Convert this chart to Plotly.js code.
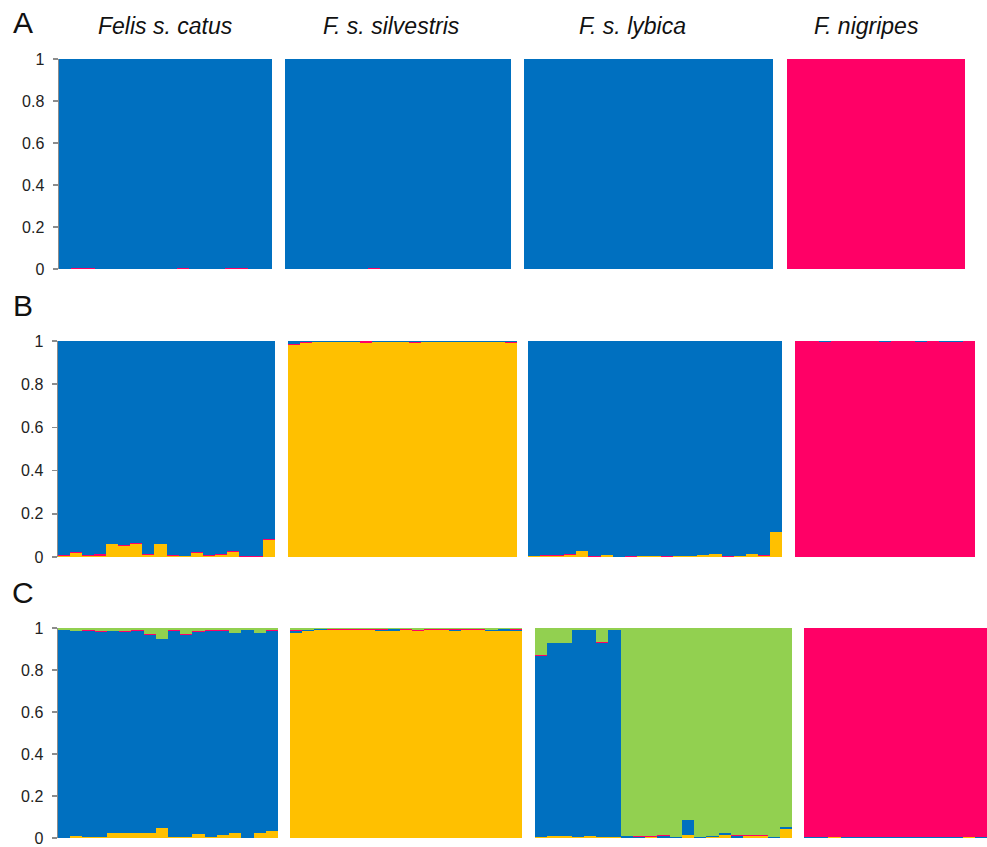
<!DOCTYPE html>
<html>
<head>
<meta charset="utf-8">
<script src="https://cdn.plot.ly/plotly-3.0.1.min.js"></script>
<style>html,body{margin:0;padding:0;background:#fff;}#chart{width:987px;height:847px;}</style>
</head>
<body>
<div id="chart"></div>
<script>
// ---------- Data ----------
var populations = ['Felis s. catus', 'F. s. silvestris', 'F. s. lybica', 'F. nigripes'];
var panelLetters = ['A', 'B', 'C'];
var yTickVals = [0, 0.2, 0.4, 0.6, 0.8, 1];
var yTickText = ['0', '0.2', '0.4', '0.6', '0.8', '1'];

// Row A (K=2): pink, blue
var A_catus_pink = [0,0.003,0.006,0,0.002,0,0.002,0,0,0.002,0.006,0,0.002,0,0.005,0.005,0,0.002];
var A_catus_blue = [1,0.997,0.994,1,0.998,1,0.998,1,1,0.998,0.994,1,0.998,1,0.995,0.995,1,0.998];
var A_silv_pink = [0,0,0,0,0,0,0,0.004,0,0,0,0,0,0,0,0,0,0,0];
var A_silv_blue = [1,1,1,1,1,1,1,0.996,1,1,1,1,1,1,1,1,1,1,1];
var A_lyb_pink = [0,0,0,0,0,0,0,0,0,0,0,0,0,0,0,0,0,0,0,0,0];
var A_lyb_blue = [1,1,1,1,1,1,1,1,1,1,1,1,1,1,1,1,1,1,1,1,1];
var A_nig_pink = [1,1,1,1,1,1,1,1,1,1,1,1,1,1,1];
var A_nig_blue = [0,0,0,0,0,0,0,0,0,0,0,0,0,0,0];

// Row B (K=3): yellow, pink, blue
var B_catus_yellow = [0.004,0.019,0.006,0.004,0.059,0.051,0.062,0.011,0.059,0.006,0.003,0.020,0.006,0.011,0.025,0.002,0.002,0.080];
var B_catus_pink   = [0.004,0.004,0.002,0.008,0.003,0.004,0.002,0.002,0.003,0.002,0.003,0.003,0.002,0.003,0.002,0.004,0.004,0.002];
var B_catus_blue   = [0.992,0.977,0.992,0.988,0.938,0.945,0.936,0.987,0.938,0.992,0.994,0.977,0.992,0.986,0.973,0.994,0.994,0.918];
var B_silv_yellow = [0.982,0.992,0.995,0.994,0.995,0.994,0.993,0.995,0.994,0.995,0.993,0.995,0.994,0.995,0.995,0.994,0.995,0.994,0.992];
var B_silv_pink   = [0.006,0.002,0.002,0.003,0.002,0.003,0.005,0.002,0.003,0.002,0.003,0.002,0.002,0.002,0.002,0.003,0.002,0.003,0.005];
var B_silv_blue   = [0.012,0.006,0.003,0.003,0.003,0.003,0.002,0.003,0.003,0.003,0.004,0.003,0.004,0.003,0.003,0.003,0.003,0.003,0.003];
var B_lyb_yellow = [0.004,0.006,0.006,0.008,0.026,0.002,0.009,0.001,0.002,0.005,0.005,0.002,0.005,0.005,0.007,0.012,0.002,0.005,0.014,0.006,0.115];
var B_lyb_pink   = [0.002,0.002,0.002,0.004,0.002,0.001,0.002,0.001,0.001,0.001,0.001,0.001,0.001,0.001,0.002,0.002,0.001,0.001,0.002,0.002,0.002];
var B_lyb_blue   = [0.994,0.992,0.992,0.988,0.972,0.997,0.989,0.998,0.997,0.994,0.994,0.997,0.994,0.994,0.991,0.986,0.997,0.994,0.984,0.992,0.883];
var B_nig_yellow = [0,0,0,0,0,0,0,0,0,0,0,0,0,0,0];
var B_nig_pink   = [0.998,0.998,0.994,0.998,0.998,0.998,0.998,0.994,0.998,0.998,0.994,0.998,0.994,0.994,0.998];
var B_nig_blue   = [0.002,0.002,0.006,0.002,0.002,0.002,0.002,0.006,0.002,0.002,0.006,0.002,0.006,0.006,0.002];

// Row C (K=4): yellow, blue, pink, green
var C_catus_yellow = [0.002,0.011,0.003,0.005,0.022,0.025,0.025,0.024,0.046,0.005,0.003,0.019,0.005,0.013,0.022,0.001,0.024,0.033];
var C_catus_blue   = [0.988,0.974,0.985,0.974,0.963,0.958,0.963,0.942,0.900,0.982,0.966,0.964,0.983,0.974,0.952,0.989,0.950,0.955];
var C_catus_pink   = [0.002,0.002,0.004,0.005,0.002,0.004,0.002,0.004,0.004,0.002,0.002,0.004,0.002,0.002,0.004,0.002,0.004,0.002];
var C_catus_green  = [0.008,0.013,0.008,0.016,0.013,0.013,0.010,0.030,0.050,0.011,0.029,0.013,0.010,0.011,0.022,0.008,0.022,0.010];
var C_silv_yellow = [0.975,0.988,0.990,0.990,0.990,0.990,0.990,0.985,0.988,0.990,0.985,0.990,0.990,0.985,0.990,0.990,0.988,0.988,0.988];
var C_silv_blue   = [0.010,0.002,0.004,0.002,0.002,0.002,0.002,0.007,0.006,0.002,0.002,0.002,0.002,0.007,0.002,0.002,0.002,0.006,0.002];
var C_silv_pink   = [0.005,0.002,0.001,0.003,0.001,0.002,0.002,0.002,0.001,0.002,0.005,0.002,0.002,0.002,0.002,0.002,0.002,0.001,0.004];
var C_silv_green  = [0.010,0.008,0.005,0.005,0.007,0.006,0.006,0.006,0.005,0.006,0.008,0.006,0.006,0.006,0.006,0.006,0.008,0.005,0.006];
var C_lyb_yellow = [0.005,0.011,0.011,0.005,0.011,0.005,0.006,0.002,0.002,0.003,0.002,0.001,0.016,0.001,0.003,0.013,0.001,0.008,0.008,0.001,0.043];
var C_lyb_blue   = [0.861,0.917,0.917,0.985,0.979,0.924,0.984,0.006,0.001,0.003,0.009,0.005,0.070,0.004,0.006,0.011,0.008,0.003,0.003,0.004,0.008];
var C_lyb_pink   = [0.004,0.002,0.002,0.002,0.002,0.004,0.002,0.002,0.005,0.002,0.002,0.001,0.002,0.001,0.002,0.001,0.003,0.001,0.001,0.001,0.002];
var C_lyb_green  = [0.130,0.070,0.070,0.008,0.008,0.067,0.008,0.990,0.992,0.992,0.987,0.993,0.912,0.994,0.989,0.975,0.988,0.988,0.988,0.994,0.947];
var C_nig_yellow = [0,0,0.004,0,0,0,0,0,0,0,0,0,0,0.004,0];
var C_nig_blue   = [0.003,0.003,0.003,0.003,0.003,0.003,0.003,0.003,0.003,0.003,0.003,0.003,0.003,0.003,0.003];
var C_nig_pink   = [0.997,0.997,0.993,0.997,0.997,0.997,0.997,0.997,0.997,0.997,0.997,0.997,0.997,0.993,0.997];
var C_nig_green  = [0,0,0,0,0,0,0,0,0,0,0,0,0,0,0];

// ---------- Styling ----------
var COLORS = {yellow:'#FFC000', pink:'#FF0066', blue:'#0070C0', green:'#92D050'};
var FONT = '"Liberation Sans", Arial, sans-serif';
var W = 987, H = 847;
var panelPx = [
  [[59,272],[285,511],[524,773],[787,965]],
  [[58,275],[288,517],[528,782],[795,975]],
  [[58,278],[290,522],[535,792],[804,987]]
];
var rowPx = [[59,269],[341,557],[628,838]];

var rows = [
  [ [['pink',A_catus_pink],['blue',A_catus_blue]],
    [['pink',A_silv_pink],['blue',A_silv_blue]],
    [['pink',A_lyb_pink],['blue',A_lyb_blue]],
    [['pink',A_nig_pink],['blue',A_nig_blue]] ],
  [ [['yellow',B_catus_yellow],['pink',B_catus_pink],['blue',B_catus_blue]],
    [['yellow',B_silv_yellow],['pink',B_silv_pink],['blue',B_silv_blue]],
    [['yellow',B_lyb_yellow],['pink',B_lyb_pink],['blue',B_lyb_blue]],
    [['yellow',B_nig_yellow],['pink',B_nig_pink],['blue',B_nig_blue]] ],
  [ [['yellow',C_catus_yellow],['blue',C_catus_blue],['pink',C_catus_pink],['green',C_catus_green]],
    [['yellow',C_silv_yellow],['blue',C_silv_blue],['pink',C_silv_pink],['green',C_silv_green]],
    [['yellow',C_lyb_yellow],['blue',C_lyb_blue],['pink',C_lyb_pink],['green',C_lyb_green]],
    [['yellow',C_nig_yellow],['blue',C_nig_blue],['pink',C_nig_pink],['green',C_nig_green]] ]
];

var traces = [];
var layout = {
  width: W, height: H,
  margin: {l:0, r:0, t:0, b:0},
  paper_bgcolor: '#ffffff', plot_bgcolor: 'rgba(0,0,0,0)',
  showlegend: false, barmode: 'stack', bargap: 0,
  font: {family: FONT, color: '#222'},
  annotations: []
};

var axisCount = 0;
for (var r = 0; r < 3; r++) {
  var yName = r === 0 ? 'y' : 'y' + (r + 1);
  var yKey = r === 0 ? 'yaxis' : 'yaxis' + (r + 1);
  var firstX = null;
  for (var p = 0; p < 4; p++) {
    axisCount++;
    var xName = axisCount === 1 ? 'x' : 'x' + axisCount;
    var xKey = axisCount === 1 ? 'xaxis' : 'xaxis' + axisCount;
    if (p === 0) firstX = xName;
    var clusters = rows[r][p];
    var n = clusters[0][1].length;
    var xs = [];
    for (var i = 0; i < n; i++) xs.push(i);
    clusters.forEach(function (c) {
      traces.push({
        type: 'bar', x: xs, y: c[1], xaxis: xName, yaxis: yName,
        marker: {color: COLORS[c[0]], line: {width: 0}},
        width: 1, hoverinfo: 'skip'
      });
    });
    layout[xKey] = {
      domain: [panelPx[r][p][0] / W, panelPx[r][p][1] / W],
      range: [-0.5, n - 0.5], anchor: yName,
      showgrid: false, zeroline: false, showline: false,
      showticklabels: false, ticks: '', fixedrange: true
    };
  }
  layout[yKey] = {
    domain: [1 - rowPx[r][1] / H, 1 - rowPx[r][0] / H],
    range: [0, 1], anchor: firstX,
    tickvals: yTickVals, ticktext: yTickText,
    showline: true, linecolor: '#8c8c8c', linewidth: 1.5,
    ticks: 'outside', ticklen: 5, tickcolor: '#8c8c8c', tickwidth: 1.5,
    ticklabelstandoff: 5,
    showgrid: false, zeroline: false,
    tickfont: {size: 16, color: '#222', family: FONT},
    fixedrange: true
  };
  layout.annotations.push({
    text: panelLetters[r], xref: 'paper', yref: 'paper',
    x: 23 / W, y: 1 - [22, 305, 592][r] / H,
    xanchor: 'center', yanchor: 'middle', showarrow: false,
    font: {size: 30, color: '#111', family: FONT}
  });
}
var titleCenters = [165, 391, 632, 866];
for (var k = 0; k < 4; k++) {
  layout.annotations.push({
    text: '<i>' + populations[k] + '</i>', xref: 'paper', yref: 'paper',
    x: titleCenters[k] / W, y: 1 - 26 / H,
    xanchor: 'center', yanchor: 'middle', showarrow: false,
    font: {size: 23, color: '#111', family: FONT}
  });
}

Plotly.newPlot('chart', traces, layout, {staticPlot: true, displayModeBar: false});
</script>
</body>
</html>
